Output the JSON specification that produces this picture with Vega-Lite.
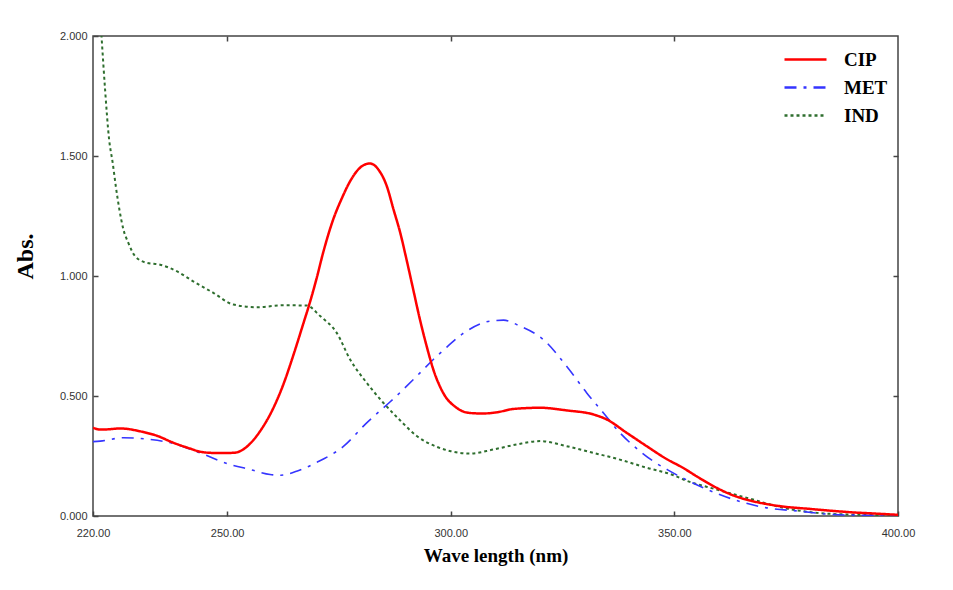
{
  "$schema": "https://vega.github.io/schema/vega-lite/v6.json",
  "width": 805,
  "height": 480,
  "autosize": {"type": "none"},
  "padding": {"left": 93, "top": 36, "right": 55, "bottom": 74},
  "background": "white",
  "config": {
    "view": {"stroke": "#444", "strokeWidth": 1.5},
    "axis": {"grid": false, "domain": false, "tickColor": "#444", "tickWidth": 1.5, "labelFont": "Liberation Sans", "labelFontSize": 11, "labelColor": "#333"}
  },
  "datasets": {
    "spectra": [
      {"series": "CIP", "wl": 220, "abs": 0.368},
      {"series": "CIP", "wl": 221.6, "abs": 0.36},
      {"series": "CIP", "wl": 224, "abs": 0.362},
      {"series": "CIP", "wl": 226, "abs": 0.365},
      {"series": "CIP", "wl": 228, "abs": 0.362},
      {"series": "CIP", "wl": 230.5, "abs": 0.353},
      {"series": "CIP", "wl": 234.2, "abs": 0.335},
      {"series": "CIP", "wl": 238, "abs": 0.305},
      {"series": "CIP", "wl": 241.7, "abs": 0.281},
      {"series": "CIP", "wl": 243.9, "abs": 0.268},
      {"series": "CIP", "wl": 246.5, "abs": 0.263},
      {"series": "CIP", "wl": 249.1, "abs": 0.262},
      {"series": "CIP", "wl": 251.8, "abs": 0.264},
      {"series": "CIP", "wl": 253.8, "abs": 0.28},
      {"series": "CIP", "wl": 255.8, "abs": 0.315},
      {"series": "CIP", "wl": 257.6, "abs": 0.36},
      {"series": "CIP", "wl": 259.8, "abs": 0.43},
      {"series": "CIP", "wl": 262.6, "abs": 0.55},
      {"series": "CIP", "wl": 264.8, "abs": 0.67},
      {"series": "CIP", "wl": 267, "abs": 0.8},
      {"series": "CIP", "wl": 268.5, "abs": 0.89},
      {"series": "CIP", "wl": 270, "abs": 0.99},
      {"series": "CIP", "wl": 271.5, "abs": 1.1},
      {"series": "CIP", "wl": 273.7, "abs": 1.235},
      {"series": "CIP", "wl": 275.6, "abs": 1.322},
      {"series": "CIP", "wl": 277.5, "abs": 1.395},
      {"series": "CIP", "wl": 279.7, "abs": 1.451},
      {"series": "CIP", "wl": 281.9, "abs": 1.469},
      {"series": "CIP", "wl": 283.8, "abs": 1.444},
      {"series": "CIP", "wl": 285.7, "abs": 1.374},
      {"series": "CIP", "wl": 287.2, "abs": 1.277},
      {"series": "CIP", "wl": 288.7, "abs": 1.18},
      {"series": "CIP", "wl": 290.1, "abs": 1.069},
      {"series": "CIP", "wl": 291.6, "abs": 0.944},
      {"series": "CIP", "wl": 293.1, "abs": 0.819},
      {"series": "CIP", "wl": 294.6, "abs": 0.708},
      {"series": "CIP", "wl": 296.1, "abs": 0.61},
      {"series": "CIP", "wl": 298.3, "abs": 0.513},
      {"series": "CIP", "wl": 301.3, "abs": 0.451},
      {"series": "CIP", "wl": 303.9, "abs": 0.43},
      {"series": "CIP", "wl": 307, "abs": 0.427},
      {"series": "CIP", "wl": 310.3, "abs": 0.432},
      {"series": "CIP", "wl": 314, "abs": 0.446},
      {"series": "CIP", "wl": 320, "abs": 0.451},
      {"series": "CIP", "wl": 325.9, "abs": 0.44},
      {"series": "CIP", "wl": 331.9, "abs": 0.423},
      {"series": "CIP", "wl": 334.9, "abs": 0.402},
      {"series": "CIP", "wl": 339.3, "abs": 0.347},
      {"series": "CIP", "wl": 343.8, "abs": 0.291},
      {"series": "CIP", "wl": 348.3, "abs": 0.237},
      {"series": "CIP", "wl": 352, "abs": 0.2},
      {"series": "CIP", "wl": 355, "abs": 0.165},
      {"series": "CIP", "wl": 359.5, "abs": 0.117},
      {"series": "CIP", "wl": 363, "abs": 0.087},
      {"series": "CIP", "wl": 367, "abs": 0.064},
      {"series": "CIP", "wl": 370, "abs": 0.052},
      {"series": "CIP", "wl": 374, "abs": 0.04},
      {"series": "CIP", "wl": 380, "abs": 0.03},
      {"series": "CIP", "wl": 385, "abs": 0.022},
      {"series": "CIP", "wl": 390, "abs": 0.015},
      {"series": "CIP", "wl": 395, "abs": 0.01},
      {"series": "CIP", "wl": 400, "abs": 0.005},
      {"series": "MET", "wl": 220, "abs": 0.31},
      {"series": "MET", "wl": 221.6, "abs": 0.312},
      {"series": "MET", "wl": 226.8, "abs": 0.326},
      {"series": "MET", "wl": 232.7, "abs": 0.319},
      {"series": "MET", "wl": 238, "abs": 0.302},
      {"series": "MET", "wl": 243.9, "abs": 0.263},
      {"series": "MET", "wl": 250.6, "abs": 0.215},
      {"series": "MET", "wl": 255.1, "abs": 0.194},
      {"series": "MET", "wl": 259.6, "abs": 0.173},
      {"series": "MET", "wl": 262, "abs": 0.17},
      {"series": "MET", "wl": 266, "abs": 0.19},
      {"series": "MET", "wl": 270, "abs": 0.223},
      {"series": "MET", "wl": 276, "abs": 0.29},
      {"series": "MET", "wl": 281.2, "abs": 0.388},
      {"series": "MET", "wl": 286.4, "abs": 0.475},
      {"series": "MET", "wl": 288.7, "abs": 0.515},
      {"series": "MET", "wl": 292.4, "abs": 0.583},
      {"series": "MET", "wl": 296.1, "abs": 0.652},
      {"series": "MET", "wl": 298.3, "abs": 0.69},
      {"series": "MET", "wl": 303.5, "abs": 0.77},
      {"series": "MET", "wl": 308.8, "abs": 0.812},
      {"series": "MET", "wl": 311.8, "abs": 0.816},
      {"series": "MET", "wl": 315.5, "abs": 0.791},
      {"series": "MET", "wl": 320.7, "abs": 0.735},
      {"series": "MET", "wl": 325.9, "abs": 0.624},
      {"series": "MET", "wl": 330.4, "abs": 0.513},
      {"series": "MET", "wl": 334.1, "abs": 0.43},
      {"series": "MET", "wl": 337.8, "abs": 0.347},
      {"series": "MET", "wl": 342.3, "abs": 0.27},
      {"series": "MET", "wl": 345.3, "abs": 0.228},
      {"series": "MET", "wl": 349, "abs": 0.187},
      {"series": "MET", "wl": 355.7, "abs": 0.124},
      {"series": "MET", "wl": 363.2, "abs": 0.069},
      {"series": "MET", "wl": 370.6, "abs": 0.034},
      {"series": "MET", "wl": 378.1, "abs": 0.02},
      {"series": "MET", "wl": 385.5, "abs": 0.006},
      {"series": "MET", "wl": 393, "abs": 0.003},
      {"series": "MET", "wl": 400, "abs": 0.002},
      {"series": "IND", "wl": 220, "abs": 2.53},
      {"series": "IND", "wl": 221, "abs": 2.26},
      {"series": "IND", "wl": 221.9, "abs": 2.0},
      {"series": "IND", "wl": 222.7, "abs": 1.777},
      {"series": "IND", "wl": 223.6, "abs": 1.569},
      {"series": "IND", "wl": 224.4, "abs": 1.472},
      {"series": "IND", "wl": 225.1, "abs": 1.374},
      {"series": "IND", "wl": 225.9, "abs": 1.277},
      {"series": "IND", "wl": 226.8, "abs": 1.194},
      {"series": "IND", "wl": 227.9, "abs": 1.138},
      {"series": "IND", "wl": 229.4, "abs": 1.083},
      {"series": "IND", "wl": 232, "abs": 1.055},
      {"series": "IND", "wl": 235, "abs": 1.047},
      {"series": "IND", "wl": 238.7, "abs": 1.02},
      {"series": "IND", "wl": 242.4, "abs": 0.978},
      {"series": "IND", "wl": 246.9, "abs": 0.93},
      {"series": "IND", "wl": 251.4, "abs": 0.881},
      {"series": "IND", "wl": 256.6, "abs": 0.87},
      {"series": "IND", "wl": 262.6, "abs": 0.878},
      {"series": "IND", "wl": 267.8, "abs": 0.877},
      {"series": "IND", "wl": 270.8, "abs": 0.833},
      {"series": "IND", "wl": 274.5, "abs": 0.763},
      {"series": "IND", "wl": 277.5, "abs": 0.652},
      {"series": "IND", "wl": 281.2, "abs": 0.555},
      {"series": "IND", "wl": 284.9, "abs": 0.472},
      {"series": "IND", "wl": 288.7, "abs": 0.398},
      {"series": "IND", "wl": 292.4, "abs": 0.333},
      {"series": "IND", "wl": 296.9, "abs": 0.288},
      {"series": "IND", "wl": 300, "abs": 0.27},
      {"series": "IND", "wl": 304.3, "abs": 0.26},
      {"series": "IND", "wl": 309.5, "abs": 0.277},
      {"series": "IND", "wl": 314.7, "abs": 0.298},
      {"series": "IND", "wl": 320, "abs": 0.312},
      {"series": "IND", "wl": 325.9, "abs": 0.291},
      {"series": "IND", "wl": 331.9, "abs": 0.263},
      {"series": "IND", "wl": 337.8, "abs": 0.235},
      {"series": "IND", "wl": 343.8, "abs": 0.201},
      {"series": "IND", "wl": 349.8, "abs": 0.17},
      {"series": "IND", "wl": 352, "abs": 0.152},
      {"series": "IND", "wl": 359.5, "abs": 0.11},
      {"series": "IND", "wl": 366.9, "abs": 0.072},
      {"series": "IND", "wl": 374.4, "abs": 0.034},
      {"series": "IND", "wl": 381.9, "abs": 0.013},
      {"series": "IND", "wl": 389.3, "abs": 0.006},
      {"series": "IND", "wl": 400, "abs": 0.003}
    ]
  },
  "data": {"name": "spectra"},
  "resolve": {"axis": {"x": "independent", "y": "independent"}},
  "layer": [
    {
      "transform": [{"filter": "datum.series === 'IND'"}],
      "mark": {"type": "line", "clip": true, "interpolate": "monotone", "strokeWidth": 2},
      "encoding": {
        "x": {"field": "wl", "type": "quantitative", "scale": {"domain": [220, 400], "nice": false, "zero": false},
          "axis": {"orient": "bottom", "values": [220, 250, 300, 350, 400], "format": ".2f", "labelFlush": false, "tickSize": -5, "labelPadding": 16, "title": "Wave length (nm)", "titleFont": "Liberation Serif", "titleFontWeight": "bold", "titleFontSize": 19, "titleColor": "black", "titlePadding": 8}},
        "y": {"field": "abs", "type": "quantitative", "scale": {"domain": [0, 2], "nice": false},
          "axis": {"orient": "left", "values": [0, 0.5, 1, 1.5, 2], "format": ".3f", "tickSize": -5, "labelPadding": 11, "title": "Abs.", "titleFont": "Liberation Serif", "titleFontWeight": "bold", "titleFontSize": 24, "titleColor": "black", "titlePadding": 22, "titleY": 220}},
        "color": {"field": "series", "type": "nominal",
          "scale": {"domain": ["CIP", "MET", "IND"], "range": ["#ff0000", "#3535ff", "#2e6e2e"]},
          "legend": {"orient": "none", "legendX": 690, "legendY": 10, "title": null, "padding": 0, "symbolType": "stroke", "symbolSize": 1764, "labelOffset": 16, "labelFont": "Liberation Serif", "labelFontWeight": "bold", "labelFontSize": 19, "labelColor": "black", "clipHeight": 27, "rowPadding": 1,
            "encode": {"symbols": {"enter": {"stroke": {"signal": "datum.value === 'IND' ? '#22dd22' : datum.value === 'MET' ? '#0000ff' : '#ff0000'"}}, "update": {"stroke": {"signal": "datum.value === 'IND' ? '#22dd22' : datum.value === 'MET' ? '#0000ff' : '#ff0000'"}, "strokeWidth": {"value": 2.5}}}}}},
        "strokeDash": {"field": "series", "type": "nominal",
          "scale": {"domain": ["CIP", "MET", "IND"], "range": [[1, 0], [12, 7, 3, 7], [3, 3]]},
          "legend": {"orient": "none", "legendX": 690, "legendY": 10, "title": null, "padding": 0, "symbolType": "stroke", "symbolSize": 1764, "labelOffset": 16, "labelFont": "Liberation Serif", "labelFontWeight": "bold", "labelFontSize": 19, "labelColor": "black", "clipHeight": 27, "rowPadding": 1,
            "encode": {"symbols": {"enter": {"stroke": {"signal": "datum.value === 'IND' ? '#22dd22' : datum.value === 'MET' ? '#0000ff' : '#ff0000'"}}, "update": {"stroke": {"signal": "datum.value === 'IND' ? '#22dd22' : datum.value === 'MET' ? '#0000ff' : '#ff0000'"}, "strokeWidth": {"value": 2.5}}}}}}
      }
    },
    {
      "transform": [{"filter": "datum.series === 'MET'"}],
      "mark": {"type": "line", "clip": true, "interpolate": "monotone", "strokeWidth": 1.6},
      "encoding": {
        "x": {"field": "wl", "type": "quantitative", "axis": null},
        "y": {"field": "abs", "type": "quantitative", "axis": null},
        "color": {"field": "series", "type": "nominal"},
        "strokeDash": {"field": "series", "type": "nominal"}
      }
    },
    {
      "transform": [{"filter": "datum.series === 'CIP'"}],
      "mark": {"type": "line", "clip": true, "interpolate": "monotone", "strokeWidth": 2.5},
      "encoding": {
        "x": {"field": "wl", "type": "quantitative",
          "axis": {"orient": "top", "values": [250, 300, 350], "labels": false, "tickSize": -5, "title": null}},
        "y": {"field": "abs", "type": "quantitative",
          "axis": {"orient": "right", "values": [0.5, 1, 1.5], "labels": false, "tickSize": -5, "title": null}},
        "color": {"field": "series", "type": "nominal"},
        "strokeDash": {"field": "series", "type": "nominal"}
      }
    }
  ]
}
